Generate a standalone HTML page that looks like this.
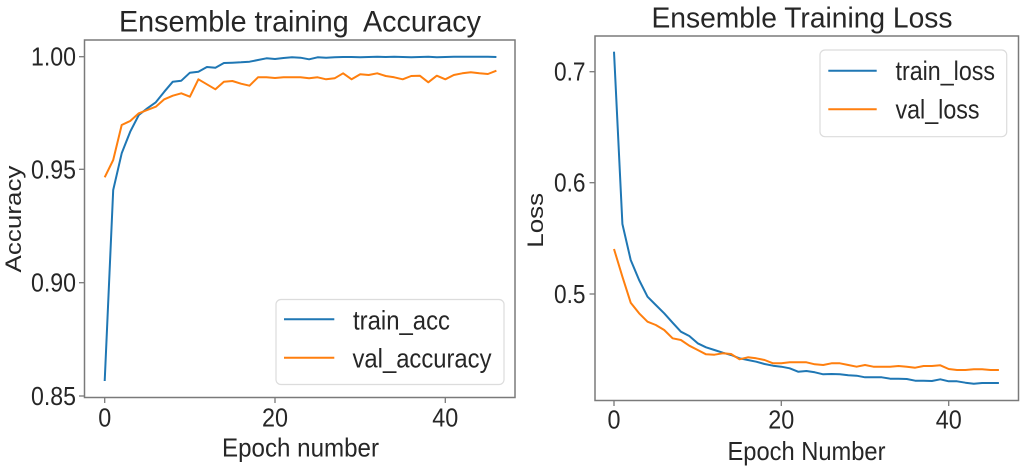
<!DOCTYPE html>
<html>
<head>
<meta charset="utf-8">
<style>
html,body{margin:0;padding:0;background:#fff;}
svg{display:block;}
text{font-family:"Liberation Sans",Arial,sans-serif;fill:#262626;white-space:pre;}
</style>
</head>
<body>
<svg width="1024" height="471" viewBox="0 0 1024 471" xmlns="http://www.w3.org/2000/svg">
<rect x="0" y="0" width="1024" height="471" fill="#fff"/>

<!-- ===== LEFT CHART ===== -->
<text x="119" y="31.7" font-size="30" textLength="362" lengthAdjust="spacingAndGlyphs">Ensemble training  Accuracy</text>

<!-- ticks -->
<g stroke="#7a7a7a" stroke-width="1.3">
  <line x1="79" y1="56.7" x2="84.5" y2="56.7"/>
  <line x1="79" y1="169.3" x2="84.5" y2="169.3"/>
  <line x1="79" y1="282.7" x2="84.5" y2="282.7"/>
  <line x1="79" y1="396" x2="84.5" y2="396"/>
  <line x1="104.7" y1="397.5" x2="104.7" y2="403"/>
  <line x1="275" y1="397.5" x2="275" y2="403"/>
  <line x1="445.3" y1="397.5" x2="445.3" y2="403"/>
</g>
<g font-size="26" text-anchor="end">
  <text x="76" y="65.7" textLength="45" lengthAdjust="spacingAndGlyphs">1.00</text>
  <text x="76" y="178.3" textLength="45" lengthAdjust="spacingAndGlyphs">0.95</text>
  <text x="76" y="291.7" textLength="45" lengthAdjust="spacingAndGlyphs">0.90</text>
  <text x="76" y="405" textLength="45" lengthAdjust="spacingAndGlyphs">0.85</text>
</g>
<g font-size="26" text-anchor="middle">
  <text x="104.7" y="426.7" textLength="13" lengthAdjust="spacingAndGlyphs">0</text>
  <text x="275" y="426.7" textLength="26" lengthAdjust="spacingAndGlyphs">20</text>
  <text x="445.3" y="426.7" textLength="26" lengthAdjust="spacingAndGlyphs">40</text>
</g>
<text x="222" y="456.7" font-size="26" textLength="157" lengthAdjust="spacingAndGlyphs">Epoch number</text>
<text transform="translate(21,219) scale(0.87,1) rotate(-90)" x="0" y="0" font-size="26" text-anchor="middle">Accuracy</text>

<!-- series -->
<polyline fill="none" stroke="#1f77b4" stroke-width="2" stroke-linejoin="round" points="
104.7,381 113.2,190 121.7,153.3 130.2,131.7 138.8,115 147.3,108.3 155.8,102.3 164.3,91.7 172.8,81.7 181.3,80.7
189.9,72.7 198.4,71.7 206.9,67 215.4,67.7 223.9,63 232.4,62.7 241,62.3 249.5,61.7 258,60 266.5,58.3
275,59 283.5,58 292,57.3 300.5,57.7 309.1,59.3 317.6,57.3 326.1,57.7 334.6,57.3 343.1,57 351.6,57
360.2,57.3 368.7,57 377.2,56.7 385.7,57 394.2,56.7 402.7,57 411.2,57.3 419.8,57 428.3,56.7 436.8,57.3
445.3,57 453.8,56.7 462.3,56.7 470.8,56.7 479.4,56.7 487.9,56.7 496.4,57"/>
<polyline fill="none" stroke="#ff7f0e" stroke-width="2" stroke-linejoin="round" points="
104.7,177.3 113.2,160 121.7,125 130.2,121 138.8,113.3 147.3,110 155.8,106.7 164.3,99.3 172.8,95.7 181.3,93.3
189.9,96.7 198.4,79.3 206.9,84.3 215.4,89.3 223.9,81.7 232.4,81 241,83.7 249.5,85.7 258,77.3 266.5,77.3
275,78 283.5,77.3 292,77.3 300.5,77.3 309.1,78.3 317.6,77.3 326.1,79.3 334.6,78.3 343.1,73.3 351.6,79.3
360.2,74.3 368.7,75 377.2,73.3 385.7,76 394.2,77.3 402.7,79.3 411.2,76 419.8,75.7 428.3,82.3 436.8,75.7
445.3,79.3 453.8,75 462.3,73.3 470.8,72.3 479.4,73.3 487.9,74 496.4,70.7"/>

<!-- frame -->
<rect x="84.5" y="40" width="430.5" height="357.5" fill="none" stroke="#7a7a7a" stroke-width="1.5"/>

<!-- legend -->
<rect x="276" y="299.5" width="228" height="85" rx="5" ry="5" fill="#fff" fill-opacity="0.85" stroke="#dcdcdc" stroke-width="1.2"/>
<line x1="284" y1="319.3" x2="334.3" y2="319.3" stroke="#1f77b4" stroke-width="2"/>
<line x1="284" y1="357.7" x2="334.3" y2="357.7" stroke="#ff7f0e" stroke-width="2"/>
<text x="353" y="329.3" font-size="27" textLength="97" lengthAdjust="spacingAndGlyphs">train_acc</text>
<text x="352.5" y="367.7" font-size="27" textLength="139" lengthAdjust="spacingAndGlyphs">val_accuracy</text>

<!-- ===== RIGHT CHART ===== -->
<text x="651.5" y="27.3" font-size="29" textLength="301" lengthAdjust="spacingAndGlyphs">Ensemble Training Loss</text>

<g stroke="#7a7a7a" stroke-width="1.3">
  <line x1="589.5" y1="71.7" x2="595" y2="71.7"/>
  <line x1="589.5" y1="182.7" x2="595" y2="182.7"/>
  <line x1="589.5" y1="294" x2="595" y2="294"/>
  <line x1="614" y1="400.5" x2="614" y2="406"/>
  <line x1="781.3" y1="400.5" x2="781.3" y2="406"/>
  <line x1="948.7" y1="400.5" x2="948.7" y2="406"/>
</g>
<g font-size="26" text-anchor="end">
  <text x="585.5" y="80.7" textLength="31.5" lengthAdjust="spacingAndGlyphs">0.7</text>
  <text x="585.5" y="191.7" textLength="31.5" lengthAdjust="spacingAndGlyphs">0.6</text>
  <text x="585.5" y="303" textLength="31.5" lengthAdjust="spacingAndGlyphs">0.5</text>
</g>
<g font-size="26" text-anchor="middle">
  <text x="614" y="428.3" textLength="13" lengthAdjust="spacingAndGlyphs">0</text>
  <text x="781.3" y="428.3" textLength="26" lengthAdjust="spacingAndGlyphs">20</text>
  <text x="948.7" y="428.3" textLength="26" lengthAdjust="spacingAndGlyphs">40</text>
</g>
<text x="727.5" y="460" font-size="26" textLength="158" lengthAdjust="spacingAndGlyphs">Epoch Number</text>
<text transform="translate(543,220.3) scale(0.87,1) rotate(-90)" x="0" y="0" font-size="26" text-anchor="middle">Loss</text>

<polyline fill="none" stroke="#1f77b4" stroke-width="2" stroke-linejoin="round" points="
614,51.7 622.4,224 630.7,260 639.1,280 647.5,296.7 655.8,305 664.2,313.3 672.6,322.7 680.9,331.7 689.3,336
697.7,343.3 706,347.3 714.4,350 722.8,352.7 731.1,355 739.5,358.3 747.9,360 756.2,361.7 764.6,364 773,365.7
781.3,366.7 789.7,368.3 798.1,371.7 806.4,371 814.8,372.3 823.2,374.3 831.5,374 839.9,374.3 848.3,375.3 856.6,375.7
865,377.3 873.4,377.3 881.7,377.3 890.1,378.7 898.5,378.7 906.8,379 915.2,380.7 923.6,380.7 931.9,381 940.3,379.3
948.7,381.3 957,381.3 965.4,382.7 973.8,383.7 982.1,383 990.5,383 998.9,383"/>
<polyline fill="none" stroke="#ff7f0e" stroke-width="2" stroke-linejoin="round" points="
614,249 622.4,276.7 630.7,302.7 639.1,313.3 647.5,321.7 655.8,325 664.2,330 672.6,338.3 680.9,340 689.3,345.7
697.7,350 706,354.3 714.4,354.7 722.8,353.3 731.1,354 739.5,359.3 747.9,357.3 756.2,358.3 764.6,360 773,363.3
781.3,363.3 789.7,362.3 798.1,362.3 806.4,362.3 814.8,364.3 823.2,365 831.5,363.3 839.9,363.3 848.3,365 856.6,366.7
865,365 873.4,366.7 881.7,366.7 890.1,366.7 898.5,366 906.8,366.7 915.2,367.7 923.6,366 931.9,366 940.3,365.3
948.7,369 957,370 965.4,370 973.8,369.3 982.1,369.3 990.5,370 998.9,370"/>

<rect x="595" y="36" width="423.5" height="364.5" fill="none" stroke="#7a7a7a" stroke-width="1.5"/>

<rect x="820" y="50" width="186.7" height="86.7" rx="5" ry="5" fill="#fff" fill-opacity="0.85" stroke="#dcdcdc" stroke-width="1.2"/>
<line x1="828.3" y1="70.7" x2="876.7" y2="70.7" stroke="#1f77b4" stroke-width="2"/>
<line x1="828.3" y1="109.3" x2="876.7" y2="109.3" stroke="#ff7f0e" stroke-width="2"/>
<text x="895.5" y="80" font-size="27" textLength="99.5" lengthAdjust="spacingAndGlyphs">train_loss</text>
<text x="895.5" y="118.3" font-size="27" textLength="84" lengthAdjust="spacingAndGlyphs">val_loss</text>
</svg>
</body>
</html>
